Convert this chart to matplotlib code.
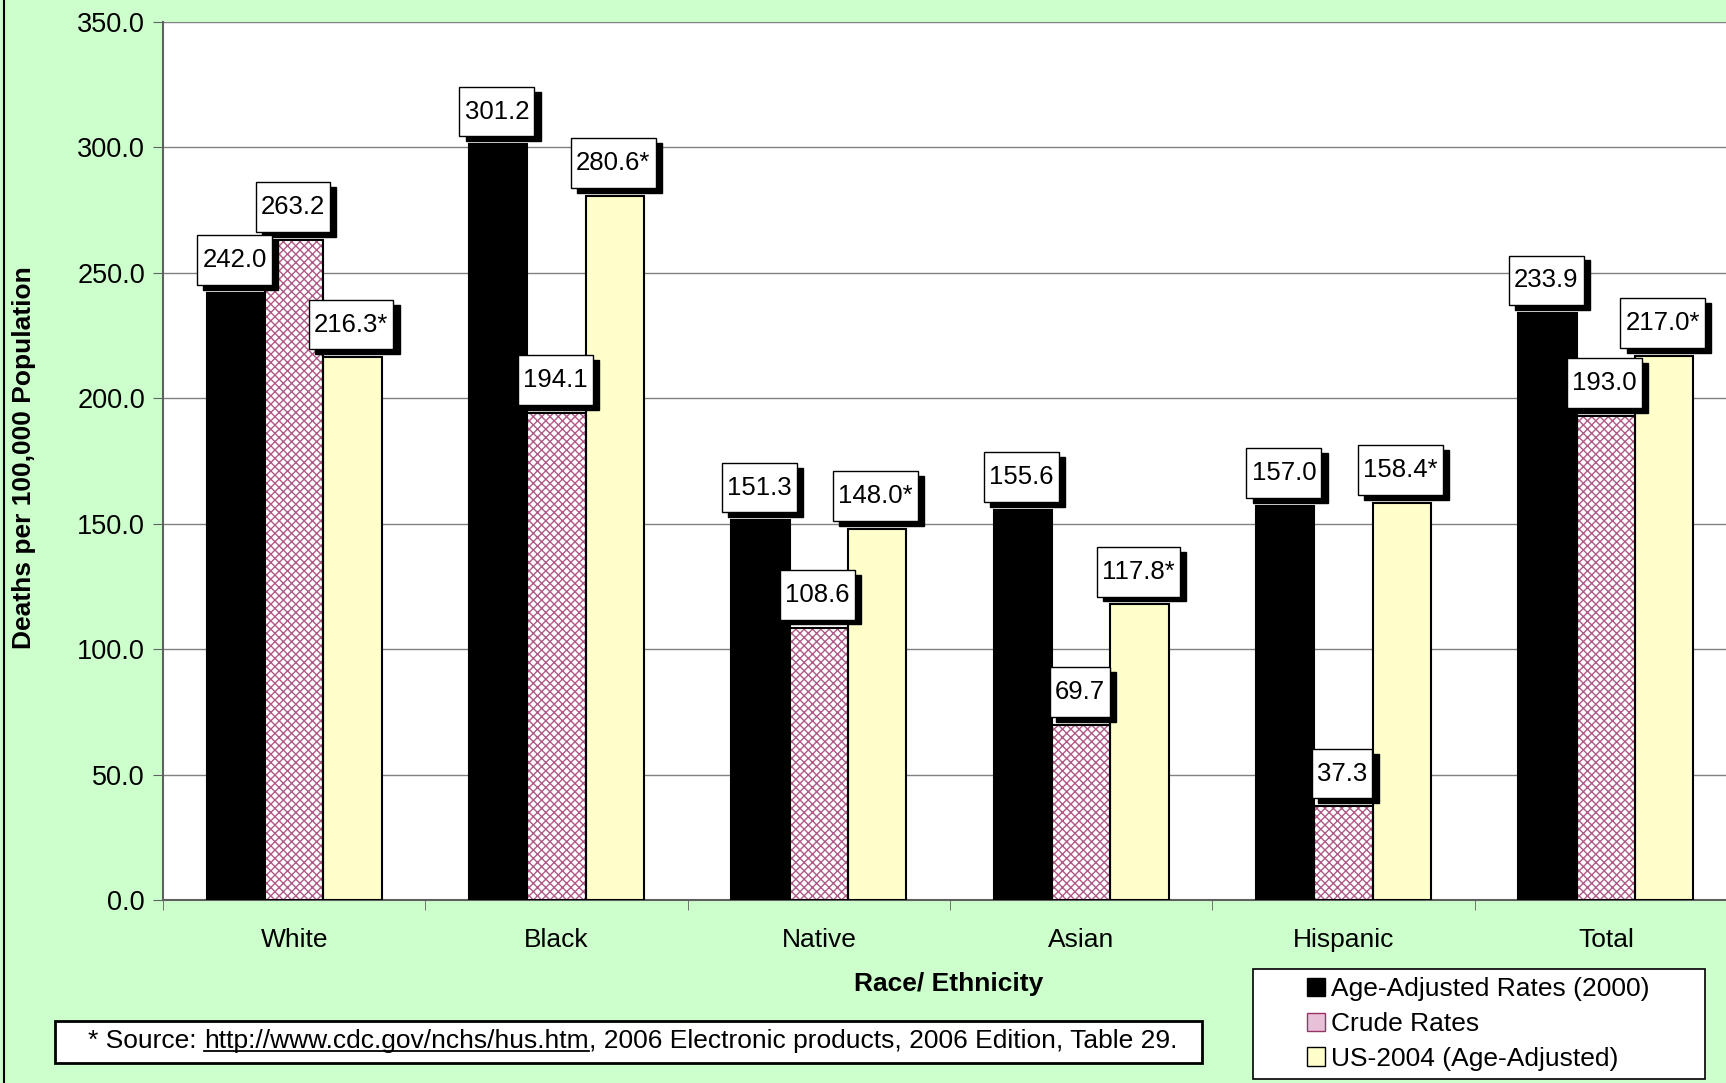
import matplotlib
matplotlib.use('Agg')
import matplotlib.pyplot as plt
from matplotlib.patches import Rectangle, Patch
from matplotlib.lines import Line2D
from matplotlib.path import Path
import numpy as np

plt.rcParams['font.family'] = ['Liberation Sans', 'DejaVu Sans']
plt.rcParams['hatch.linewidth'] = 1.0

# Data
categories = ['White', 'Black', 'Native', 'Asian', 'Hispanic', 'Total']
age_adjusted = [242.0, 301.2, 151.3, 155.6, 157.0, 233.9]
crude = [263.2, 194.1, 108.6, 69.7, 37.3, 193.0]
us_2004 = [216.3, 280.6, 148.0, 117.8, 158.4, 217.0]
series_names = ['Age-Adjusted Rates (2000)', 'Crude Rates', 'US-2004 (Age-Adjusted)']
y_ticks = [0, 50, 100, 150, 200, 250, 300, 350]

HATCH_COLOR = '#B05A88'

W, H = 1726, 1083
fig = plt.figure(figsize=(W / 100, H / 100), dpi=100, facecolor='#CCFFCC')

# plot area runs a bit past the right edge of the picture
ax = fig.add_axes([163 / W, 1 - 900 / H, (1737 - 163) / W, (900 - 22) / H])
ax.set_facecolor('white')

x = np.arange(len(categories))
bw = 0.222


def tag_box(x0, y0, width, height, mutation_size):
    # wider vertical padding than horizontal, like the spreadsheet labels
    px = 0.2 * mutation_size
    py = 0.5 * mutation_size
    xa, ya = x0 - px, y0 - py
    xb, yb = x0 + width + px, y0 + height + py
    return Path([(xa, ya), (xb, ya), (xb, yb), (xa, yb), (xa, ya)], closed=True)


def label_bars(xs, vals, suffix=''):
    for xi, v in zip(xs, vals):
        txt = f'{v:.1f}{suffix}'
        # shadow
        ax.annotate(txt, (xi, v), xytext=(3.5, 11.5), textcoords='offset points',
                    ha='center', va='bottom', fontsize=18.5, color='black',
                    bbox=dict(boxstyle=tag_box, fc='black', ec='black', lw=1),
                    zorder=5, annotation_clip=False)
        ax.annotate(txt, (xi, v), xytext=(-1, 15), textcoords='offset points',
                    ha='center', va='bottom', fontsize=18.5, color='black',
                    bbox=dict(boxstyle=tag_box, fc='white', ec='black', lw=1),
                    zorder=6, annotation_clip=False)


ax.bar(x - bw, age_adjusted, bw, color='black', edgecolor='black', lw=1.5, zorder=3)
ax.bar(x, crude, bw, color='white', edgecolor=HATCH_COLOR, hatch='xxxx', lw=0, zorder=3)
ax.bar(x, crude, bw, fill=False, edgecolor='black', lw=1.5, zorder=4)
ax.bar(x + bw, us_2004, bw, color='#FFFFCC', edgecolor='black', lw=1.5, zorder=3)

label_bars(x - bw, age_adjusted)
label_bars(x, crude)
label_bars(x + bw, us_2004, '*')

ax.set_xlim(-0.5, len(categories) - 0.5)
ax.set_ylim(0, 350)
ax.set_yticks(y_ticks)
ax.set_yticklabels([f'{t:.1f}' for t in y_ticks], fontsize=19.5)
ax.yaxis.grid(True, color='#808080', lw=1)
ax.set_axisbelow(True)

ax.set_xticks(x)
ax.set_xticklabels(categories, fontsize=19)
ax.set_xticks(np.arange(len(categories) + 1) - 0.5, minor=True)
ax.tick_params(axis='x', which='major', length=0, pad=20)
ax.tick_params(axis='x', which='minor', length=7, color='#606060', direction='out')
ax.tick_params(axis='y', length=7, color='#606060', direction='out', pad=6)

for s in ['top', 'right']:
    ax.spines[s].set_visible(False)
for s in ['left', 'bottom']:
    ax.spines[s].set_color('#606060')
    ax.spines[s].set_linewidth(1.5)

fig.text(24 / W, 1 - 458 / H, 'Deaths per 100,000 Population', rotation=90,
         ha='center', va='center', fontsize=19, fontweight='bold')
fig.text(949 / W, 1 - 984 / H, 'Race/ Ethnicity', ha='center', va='center',
         fontsize=19, fontweight='bold')

# left border of the chart area
fig.add_artist(Line2D([4 / W, 4 / W], [0, 1], color='black', lw=1.5))

# source box
fig.add_artist(Rectangle((55 / W, 1 - 1063 / H), (1202 - 55) / W, 42 / H,
                         fc='white', ec='black', lw=2, transform=fig.transFigure))
pre = '* Source: '
url = 'http://www.cdc.gov/nchs/hus.htm'
post = ', 2006 Electronic products, 2006 Edition, Table 29.'
ty = 1 - 1041 / H
renderer = fig.canvas.get_renderer()
t0 = fig.text(88 / W, ty, pre, ha='left', va='center', fontsize=19)
x1 = t0.get_window_extent(renderer).x1 / W
t1 = fig.text(x1, ty, url, ha='left', va='center', fontsize=19)
bb = t1.get_window_extent(renderer)
fig.add_artist(Line2D([bb.x0 / W, bb.x1 / W], [(bb.y0 + 2) / H] * 2, color='black', lw=1.3))
fig.text(bb.x1 / W, ty, post, ha='left', va='center', fontsize=19)

# legend box
fig.add_artist(Rectangle((1253 / W, 1 - 1079 / H), (1705 - 1253) / W, (1079 - 969) / H,
                         fc='white', ec='black', lw=1.2, transform=fig.transFigure))
handles = [Patch(fc='black', ec='black'),
           Patch(fc='#E8C0D8', ec='#993366', lw=1),
           Patch(fc='#FFFFCC', ec='black')]
leg = fig.legend(handles, series_names, loc='center left',
                 bbox_to_anchor=(1307 / W, 1 - 1024 / H), frameon=False, fontsize=19,
                 handlelength=0.7, handleheight=0.7, handletextpad=0.2,
                 labelspacing=0.4, borderpad=0, borderaxespad=0)

fig.savefig('out.png', dpi=100, facecolor=fig.get_facecolor())
